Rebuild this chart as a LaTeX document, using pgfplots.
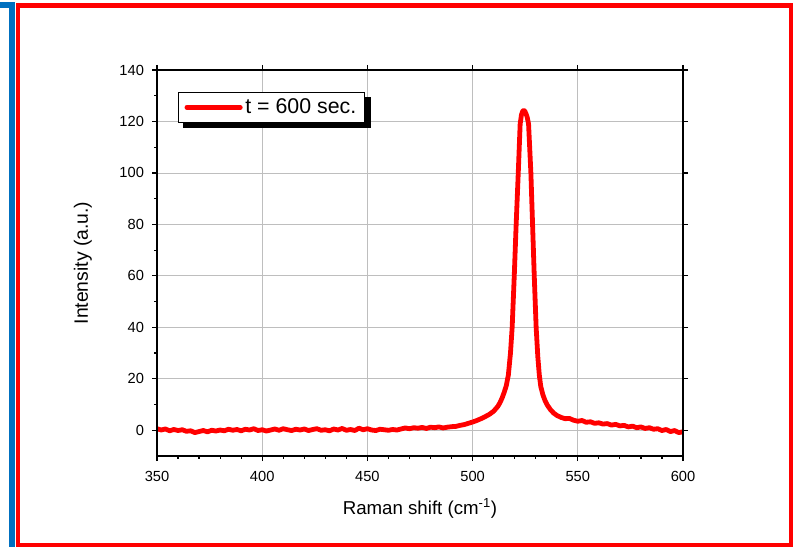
\documentclass[border=0pt]{standalone}
\usepackage{fontspec}
\setmainfont{Liberation Sans}
\usepackage{pgfplots}
\usepackage{pgfplotstable}
\pgfplotsset{compat=1.18}
\definecolor{framered}{RGB}{255,0,0}
\definecolor{frameblue}{RGB}{0,112,192}
\definecolor{gridgray}{RGB}{190,190,190}
\definecolor{specred}{RGB}{255,0,0}

% Raman spectrum, t = 600 sec.
\pgfplotstableread{
x y
350 0.6
352 0.1
354 0.5
356 -0.2
358 0.3
360 -0.1
362 0.2
364 -0.4
366 -0.2
368 -0.9
370 -0.5
372 -0.1
374 -0.6
376 0.0
378 -0.3
380 0.1
382 -0.2
384 0.4
386 0.0
388 0.3
390 -0.2
392 0.4
394 0.1
396 0.6
398 -0.1
400 0.2
402 -0.3
404 0.1
406 0.5
408 0.0
410 0.6
412 0.2
414 -0.1
416 0.4
418 0.1
420 0.5
422 -0.1
424 0.3
426 0.6
428 0.0
430 0.2
432 -0.2
434 0.5
436 0.1
438 0.7
440 0.0
442 0.3
444 -0.1
446 0.8
448 0.2
450 0.6
452 0.1
454 -0.1
456 0.4
458 0.2
460 0.0
462 0.3
464 0.1
466 0.5
468 0.9
470 0.6
472 1.0
474 0.8
476 1.1
478 0.7
480 1.2
482 1.0
484 1.3
486 0.9
488 1.2
490 1.4
492 1.5
494 1.9
496 2.2
498 2.7
500 3.2
502 3.8
504 4.5
506 5.3
508 6.2
510 7.4
512 9.3
513 10.7
514 12.5
515 14.7
516 17.3
517 21.5
518 30.0
518.8 40.0
519.8 60.0
520.7 80.0
521.7 100.0
522.6 119.0
523.2 122.5
523.8 124.0
524.3 124.3
524.8 124.0
525.4 123.0
526.0 121.5
526.6 119.0
527.7 100.0
528.5 80.0
529.3 60.0
530.2 40.0
531.0 28.5
531.7 21.5
532.4 17.0
533.4 13.8
534.4 11.6
535.5 9.8
537 8.0
538.5 6.7
540 5.8
542 5.0
544 4.5
546 4.6
548 3.9
550 3.5
552 3.8
554 3.1
556 3.3
558 2.7
560 2.9
562 2.4
564 2.6
566 2.0
568 2.3
570 1.7
572 1.9
574 1.3
576 1.6
578 1.0
580 1.3
582 0.7
584 1.0
586 0.4
588 0.6
590 -0.1
592 0.3
594 -0.5
596 -0.1
598 -0.9
600 -0.6
}\ramandata

\begin{document}
\begin{tikzpicture}
% screenshot frame (pixel units)
\begin{scope}[x=0.75pt,y=0.75pt]
  \useasboundingbox (0,0) rectangle (798,546);
  \fill[white] (0,0) rectangle (798,546);
  \draw[frameblue, line width=4pt] (0,541) -- (12,541) -- (12,-5);
  \draw[framered, line width=3.6pt] (18,-5) -- (18,540.5) -- (791,540.5) -- (791,-5);
  \draw[framered, line width=3pt] (18,1) -- (791,1);
\end{scope}

\pgfplotsset{
  ramanbox/.style={
    at={(117.75pt,67.5pt)}, anchor=south west,
    scale only axis, width=394.5pt, height=289.5pt,
    xmin=350, xmax=600, ymin=-10, ymax=140,
    xtick={350,400,...,600}, ytick={0,20,...,140},
    tick align=outside,
    major tick length=3.75pt, minor tick length=2.2pt,
    axis line style={line width=0.9pt},
    every tick/.style={black, line width=0.9pt},
  }
}

\begin{axis}[
  ramanbox,
  minor x tick num=4, minor y tick num=1,
  xtick pos=left, ytick pos=left,
  grid=major, grid style={gridgray, line width=0.6pt},
  tick label style={font=\fontsize{11}{13}\selectfont},
  xticklabel style={yshift=-4.5pt},
  yticklabel style={xshift=-2.5pt},
  /pgf/number format/assume math mode=true,
  xlabel={Raman shift (cm\textsuperscript{-1})},
  ylabel={Intensity (a.u.)},
  xlabel style={font=\fontsize{14}{16}\selectfont,
    at={(axis description cs:0.5,-0.137)}, anchor=center},
  ylabel style={font=\fontsize{14.5}{16}\selectfont,
    at={(axis description cs:-0.141,0.5)}, anchor=center},
  legend style={at={(0.04,0.943)}, anchor=north west, draw=black,
    line width=0.75pt, fill=white, font=\fontsize{16}{18}\selectfont,
    inner xsep=4.5pt, inner ysep=2.8pt, name=leg},
  legend cell align=left,
  legend image code/.code={\draw[#1] (0pt,0pt) -- (40pt,0pt);},
]
\addplot[specred, line width=3.6pt, line join=round, line cap=round]
  table[x=x, y=y] {\ramandata};
\addlegendentry{t = 600 sec.}
\end{axis}

% legend drop shadow (strips below and right of the box)
\fill[black] ([xshift=4pt,yshift=-4pt]leg.south west) rectangle ([xshift=4pt]leg.south east);
\fill[black] ([yshift=-4pt]leg.south east) rectangle ([xshift=4pt,yshift=-4pt]leg.north east);

% major ticks on the top and right edges
\begin{axis}[
  ramanbox,
  xtick pos=right, ytick pos=right,
  xticklabels={}, yticklabels={},
]
\end{axis}
\end{tikzpicture}
\end{document}
